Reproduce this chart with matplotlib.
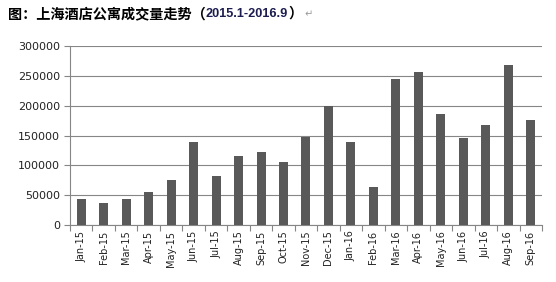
import matplotlib
matplotlib.use("Agg")
import matplotlib.pyplot as plt
import numpy as np

months = ["Jan-15", "Feb-15", "Mar-15", "Apr-15", "May-15", "Jun-15", "Jul-15",
          "Aug-15", "Sep-15", "Oct-15", "Nov-15", "Dec-15", "Jan-16", "Feb-16",
          "Mar-16", "Apr-16", "May-16", "Jun-16", "Jul-16", "Aug-16", "Sep-16"]
volume = [44000, 37000, 44000, 55500, 75500, 139500, 82000,
          115500, 122500, 105500, 148000, 199500, 139500, 64000,
          245000, 256500, 186500, 146000, 168000, 268500, 176500]
yticks = [0, 50000, 100000, 150000, 200000, 250000, 300000]

fig = plt.figure(figsize=(5.56, 2.82), dpi=100)
ax = fig.add_axes([0.1259, 0.2021, 0.8489, 0.6348])

x = np.arange(len(months))
ax.bar(x, volume, width=0.4, color="#595959", zorder=3)

ax.set_xlim(-0.5, len(months) - 0.5)
ax.set_ylim(0, 300000)
ax.set_yticks(yticks)
ax.set_yticklabels([str(v) for v in yticks], fontsize=8, family="DejaVu Sans", color="#222222")
ax.set_xticks(x)
ax.set_xticklabels(months, rotation=90, fontsize=7, family="DejaVu Sans", color="#222222")
ax.set_xticks(np.arange(-0.5, len(months)), minor=True)
ax.tick_params(axis="x", which="major", length=0, pad=4)
ax.tick_params(axis="x", which="minor", length=4, color="#868686", width=0.8)
ax.tick_params(axis="y", length=4, color="#868686", width=0.8, pad=3)

ax.grid(axis="y", color="#868686", linewidth=0.8, zorder=0)
for s in ["top", "right"]:
    ax.spines[s].set_visible(False)
for s in ["left", "bottom"]:
    ax.spines[s].set_color("#868686")
    ax.spines[s].set_linewidth(0.8)

# title pieces, chained one after another
fig.canvas.draw()
r = fig.canvas.get_renderer()
ty = 1 - 14 / 282
pieces = [("图：上海酒店公寓成交量走势（", "Noto Sans CJK SC", 10.2, "bold", "black"),
          ("2015.1-2016.9", "Liberation Sans", 9.2, "bold", "#1c1c50"),
          ("）", "Noto Sans CJK SC", 10.2, "bold", "black"),
          (" ↵", "DejaVu Sans", 7, "normal", "#999999")]
xpos = 8
for txt, fam, fs, fw, col in pieces:
    t = fig.text(xpos / 556, ty, txt, family=fam, fontsize=fs, fontweight=fw,
                 color=col, va="center", ha="left")
    bb = t.get_window_extent(renderer=r)
    xpos = bb.x1

fig.savefig("out.png", dpi=100)
